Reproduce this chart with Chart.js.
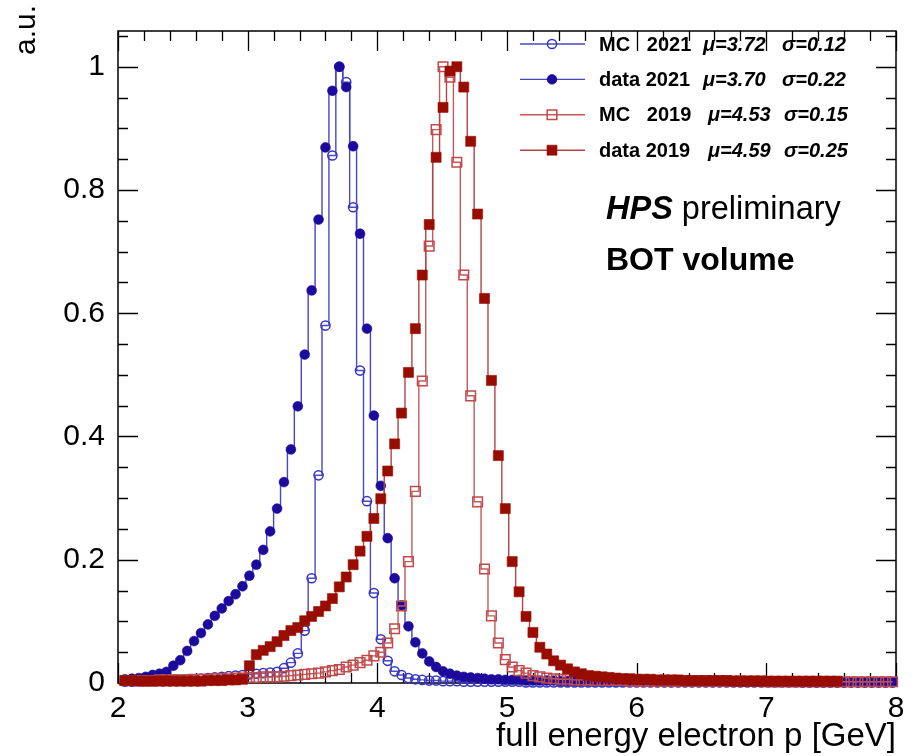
<!DOCTYPE html>
<html>
<head>
<meta charset="utf-8">
<script src="https://cdn.jsdelivr.net/npm/chart.js@4.4.1/dist/chart.umd.min.js"></script>
<style>
html,body{margin:0;padding:0;background:#ffffff;}
#wrap{position:relative;width:920px;height:756px;}
</style>
</head>
<body>
<div id="wrap"><canvas id="c" width="920" height="756"></canvas></div>
<script>
// ---------- DATA ----------
// histogram bin centres (0-8 GeV, 150 bins; visible bins 38..149)
const binCenters = [
 2.0533,2.1067,2.16,2.2133,2.2667,2.32,2.3733,2.4267,2.48,2.5333,2.5867,2.64,
 2.6933,2.7467,2.8,2.8533,2.9067,2.96,3.0133,3.0667,3.12,3.1733,3.2267,
 3.28,3.3333,3.3867,3.44,3.4933,3.5467,3.6,3.6533,3.7067,3.76,3.8133,3.8667,3.92,3.9733,4.0267,
 4.08,4.1333,4.1867,4.24,4.2933,4.3467,4.4,4.4533,4.5067,4.56,4.6133,4.6667,4.72,4.7733,4.8267,
 4.88,4.9333,4.9867,5.04,5.0933,5.1467,5.2,5.2533,5.3067,5.36,
 5.4133,5.4667,5.52,5.5733,5.6267,5.68,5.7333,5.7867,5.84,5.8933,
 5.9467,6.0,6.0533,6.1067,6.16,6.2133,6.2667,6.32,6.3733,6.4267,
 6.48,6.5333,6.5867,6.64,6.6933,6.7467,6.8,6.8533,6.9067,6.96,
 7.0133,7.0667,7.12,7.1733,7.2267,7.28,7.3333,7.3867,7.44,7.4933,7.5467,
 7.6,7.6533,7.7067,7.76,7.8133,7.8667,7.92,7.9733
];

const mc2021 = [
 0.002,0.002,0.003,0.003,0.003,0.004,0.004,0.005,0.005,0.006,0.006,0.007,
 0.008,0.009,0.010,0.011,0.012,0.013,0.014,0.015,0.016,0.017,0.018,
 0.024,0.033,0.048,0.085,0.170,0.337,0.580,0.856,1.000,0.975,0.772,0.507,0.295,0.146,0.071,
 0.036,0.019,0.013,0.008,0.006,0.005,0.004,0.004,0.003,0.003,0.003,0.002,0.002,0.002,0.002,
 0.002,0.002,0.002,0.002,0.002,0.001,0.001,0.001,0.001,0.001,
 0.001,0.001,0.001,0.001,0.001,0.001,0.001,0.001,0.001,0.001,
 0.001,0.001,0.001,0.001,0.001,0.001,0.001,0.001,0.001,0.001,
 0.001,0.001,0.001,0.001,0.001,0.001,0.001,0.001,0.001,0.001,
 0.001,0.001,0.001,0.001,0.001,0.001,0.001,0.001,0.001,0.001,0.001,
 0.001,0.001,0.001,0.001,0.001,0.001,0.001,0.001
];

const data2021 = [
 0.006,0.007,0.008,0.010,0.013,0.015,0.018,0.028,0.037,0.052,0.068,0.081,
 0.095,0.109,0.121,0.133,0.144,0.157,0.174,0.192,0.216,0.246,0.283,
 0.326,0.379,0.449,0.533,0.637,0.752,0.869,0.961,1.000,0.967,0.871,0.729,0.575,0.434,0.320,
 0.235,0.170,0.126,0.092,0.066,0.048,0.035,0.026,0.019,0.015,0.012,0.010,0.009,0.008,0.007,
 0.006,0.006,0.005,0.005,0.005,0.004,0.004,0.004,0.004,0.004,
 0.003,0.003,0.003,0.003,0.003,0.003,0.003,0.003,0.003,0.003,
 0.003,0.003,0.003,0.002,0.002,0.002,0.002,0.002,0.002,0.002,
 0.002,0.002,0.002,0.002,0.002,0.002,0.002,0.002,0.002,0.002,
 0.002,0.002,0.002,0.002,0.002,0.001,0.001,0.001,0.001,0.001,0.001,
 0.001,0.001,0.001,0.001,0.001,0.001,0.001,0.001
];

const mc2019 = [
 0.004,0.004,0.004,0.004,0.004,0.005,0.005,0.005,0.005,0.005,0.006,0.006,
 0.006,0.007,0.007,0.007,0.008,0.008,0.009,0.009,0.010,0.010,0.010,
 0.011,0.012,0.013,0.014,0.015,0.016,0.018,0.020,0.022,0.026,0.029,0.033,0.037,0.044,0.050,
 0.065,0.088,0.125,0.197,0.311,0.490,0.709,0.898,1.000,0.983,0.845,0.662,0.466,0.294,0.185,
 0.109,0.065,0.038,0.026,0.020,0.016,0.012,0.010,0.008,0.007,
 0.006,0.006,0.005,0.005,0.005,0.004,0.004,0.004,0.004,0.004,
 0.003,0.003,0.003,0.003,0.003,0.003,0.003,0.003,0.003,0.003,
 0.003,0.003,0.003,0.003,0.003,0.003,0.003,0.003,0.003,0.003,
 0.002,0.002,0.002,0.002,0.002,0.002,0.002,0.002,0.002,0.002,0.002,
 0.002,0.002,0.002,0.002,0.002,0.002,0.002,0.002
];

const data2019 = [
 0.004,0.004,0.003,0.003,0.003,0.003,0.003,0.003,0.003,0.003,0.003,0.003,
 0.004,0.004,0.004,0.005,0.005,0.006,0.028,0.046,0.053,0.059,0.067,
 0.077,0.085,0.090,0.101,0.108,0.116,0.125,0.137,0.156,0.172,0.192,0.214,0.238,0.267,0.299,
 0.344,0.388,0.438,0.504,0.575,0.662,0.744,0.853,0.934,0.993,1.000,0.967,0.879,0.761,0.624,
 0.491,0.369,0.283,0.197,0.148,0.108,0.082,0.058,0.047,0.036,
 0.029,0.023,0.018,0.015,0.012,0.011,0.010,0.009,0.008,0.007,
 0.007,0.006,0.006,0.006,0.005,0.005,0.005,0.005,0.004,0.004,
 0.004,0.004,0.004,0.004,0.004,0.003,0.003,0.003,0.003,0.003,
 0.003,0.003,0.003,0.003,0.003,0.003,0.003,0.003,0.003,0.003,0.003,
 null,null,null,null,null,null,null,null
];

const seriesLabels = ['MC   2021', 'data 2021', 'MC   2019', 'data 2019'];
const seriesMu     = ['\u03BC=3.72', '\u03BC=3.70', '\u03BC=4.53', '\u03BC=4.59'];
const seriesSigma  = ['\u03C3=0.12', '\u03C3=0.22', '\u03C3=0.15', '\u03C3=0.25'];

const xTicks = [2, 3, 4, 5, 6, 7, 8];
const yTicks = [0, 0.2, 0.4, 0.6, 0.8, 1];
const yTickLabels = ['0', '0.2', '0.4', '0.6', '0.8', '1'];

// ---------- STYLE ----------
const FONT = "'Liberation Sans', Arial, Helvetica, sans-serif";
const styles = [
  {marker:'#3535c2', line:'#4a4ac4', shape:'circle', radius:4.6, filled:false},
  {marker:'#1c0a9c', line:'#4646bd', shape:'circle', radius:4.9, filled:true},
  {marker:'#c0494b', line:'#c45a5a', shape:'rect',   radius:6.8, filled:false},
  {marker:'#990d00', line:'#b54444', shape:'rect',   radius:7.1, filled:true}
];
const seriesValues = [mc2021, data2021, mc2019, data2019];

const datasets = seriesValues.map((vals, s) => ({
  label: seriesLabels[s],
  data: binCenters.map((x, i) => ({x: x, y: vals[i]})),
  stepped: 'middle',
  borderColor: styles[s].line,
  borderWidth: 1.4,
  fill: false,
  pointStyle: styles[s].shape,
  pointRadius: styles[s].radius,
  pointHoverRadius: styles[s].radius,
  pointBorderColor: styles[s].marker,
  pointBackgroundColor: styles[s].filled ? styles[s].marker : 'rgba(0,0,0,0)',
  pointBorderWidth: styles[s].filled ? 0.6 : 1.5,
  spanGaps: false,
  clip: false,
  order: 3 - s
}));

function drawMarker(ctx, st, x, y) {
  ctx.save();
  ctx.lineWidth = st.filled ? 0.6 : 1.5;
  ctx.strokeStyle = st.marker;
  ctx.fillStyle = st.marker;
  ctx.beginPath();
  if (st.shape === 'circle') {
    ctx.arc(x, y, st.radius, 0, Math.PI * 2);
  } else {
    const h = st.radius * Math.SQRT1_2;
    ctx.rect(x - h, y - h, 2 * h, 2 * h);
  }
  if (st.filled) ctx.fill();
  ctx.stroke();
  ctx.restore();
}

const frameTicks = {
  id: 'frameTicks',
  beforeDatasetsDraw(chart) {
    const {ctx, chartArea: a, scales: {x, y}} = chart;
    ctx.save();
    ctx.strokeStyle = '#000';
    ctx.lineWidth = 1.3;
    ctx.beginPath();
    for (let i = 0; i < xTicks.length; i++) {
      for (let m = 0; m < 5; m++) {
        const v = xTicks[i] + m * 0.2;
        if (v > xTicks[xTicks.length - 1] + 1e-9) break;
        const px = Math.round(x.getPixelForValue(v)) + 0.5;
        const len = m === 0 ? 20 : 10;
        ctx.moveTo(px, a.bottom); ctx.lineTo(px, a.bottom - len);
        ctx.moveTo(px, a.top); ctx.lineTo(px, a.top + len);
      }
    }
    for (let v = 0; v <= y.max + 1e-9; v += 0.05) {
      const py = Math.round(y.getPixelForValue(v)) + 0.5;
      const major = Math.abs(v / 0.2 - Math.round(v / 0.2)) < 1e-6;
      const len = major ? 20 : 10;
      ctx.moveTo(a.left, py); ctx.lineTo(a.left + len, py);
      ctx.moveTo(a.right, py); ctx.lineTo(a.right - len, py);
    }
    ctx.stroke();
    ctx.lineWidth = 1.5;
    ctx.strokeRect(a.left, a.top, a.right - a.left, a.bottom - a.top);
    ctx.restore();
  }
};

const annotations = {
  id: 'annotations',
  afterDraw(chart) {
    const ctx = chart.ctx;
    ctx.save();
    // y-axis title
    ctx.save();
    ctx.translate(27, 5);
    ctx.rotate(-Math.PI / 2);
    ctx.font = '30px ' + FONT;
    ctx.fillStyle = '#000';
    ctx.textAlign = 'right';
    ctx.textBaseline = 'middle';
    ctx.fillText('a.u.', 0, 0);
    ctx.restore();
    // legend
    const rowY0 = 44, rowDy = 35.4;
    for (let s = 0; s < 4; s++) {
      const yy = rowY0 + s * rowDy;
      const st = styles[s];
      ctx.strokeStyle = st.line;
      ctx.lineWidth = 1.4;
      ctx.beginPath();
      ctx.moveTo(520, yy); ctx.lineTo(585, yy);
      ctx.stroke();
      drawMarker(ctx, st, 552, yy);
      ctx.fillStyle = '#000';
      ctx.textBaseline = 'middle';
      ctx.textAlign = 'left';
      ctx.font = 'bold 20px ' + FONT;
      ctx.fillText(seriesLabels[s], 599, yy + 1);
      ctx.font = 'italic bold 20px ' + FONT;
      ctx.fillText(seriesMu[s], s < 2 ? 703 : 708, yy + 1);
      ctx.fillText(seriesSigma[s], s < 2 ? 782 : 784, yy + 1);
    }
    // experiment label
    ctx.textBaseline = 'alphabetic';
    ctx.font = 'italic bold 32.5px ' + FONT;
    ctx.fillText('HPS', 606, 219);
    const w = ctx.measureText('HPS ').width;
    ctx.font = '32.5px ' + FONT;
    ctx.fillText('preliminary', 606 + w, 219);
    ctx.font = 'bold 32px ' + FONT;
    ctx.fillText('BOT volume', 606, 270);
    ctx.restore();
  }
};

new Chart(document.getElementById('c'), {
  type: 'line',
  data: {datasets: datasets},
  options: {
    responsive: false,
    animation: false,
    devicePixelRatio: 1,
    layout: {padding: {left: 0, right: 24, top: 7, bottom: 0}},
    plugins: {legend: {display: false}, tooltip: {enabled: false}},
    scales: {
      x: {
        type: 'linear', min: 2, max: 8,
        afterFit(s) { s.height = 73; },
        afterBuildTicks(s) { s.ticks = xTicks.map(v => ({value: v})); },
        grid: {display: false, drawTicks: false},
        border: {display: false},
        ticks: {font: {family: FONT, size: 30}, color: '#000', padding: 8, maxRotation: 0, autoSkip: false, includeBounds: false},
        title: {display: true, text: 'full energy electron p [GeV]', align: 'end', color: '#000',
                font: {family: FONT, size: 33}, padding: {top: 0, bottom: -1}}
      },
      y: {
        type: 'linear', min: 0, max: 1.058,
        afterFit(s) { s.width = 118; },
        afterBuildTicks(s) { s.ticks = yTicks.map(v => ({value: v})); },
        grid: {display: false, drawTicks: false},
        border: {display: false},
        ticks: {font: {family: FONT, size: 30}, color: '#000', padding: 13, includeBounds: false,
                callback: (v) => { const i = yTicks.indexOf(v); return i >= 0 ? yTickLabels[i] : ''; }}
      }
    }
  },
  plugins: [frameTicks, annotations]
});
</script>
</body>
</html>
